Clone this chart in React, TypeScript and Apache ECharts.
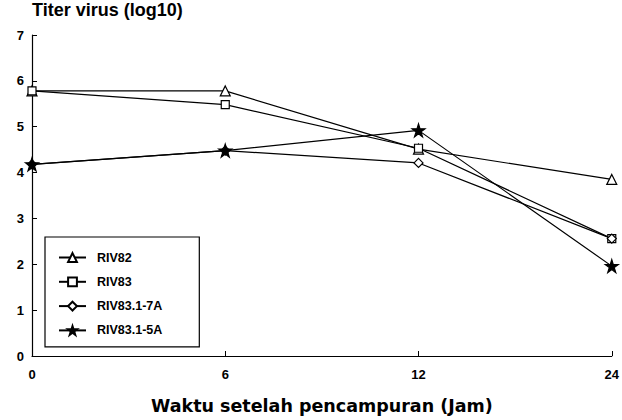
import React, { useEffect, useRef } from "react";
import * as echarts from "echarts";

const categories = ["0", "6", "12", "24"];
const riv82 = [5.78, 5.78, 4.51, 3.85];
const riv83 = [5.78, 5.48, 4.53, 2.56];
const riv83_7A = [4.18, 4.48, 4.21, 2.56];
const riv83_5A = [4.18, 4.48, 4.92, 1.96];
const seriesNames = ["RIV82", "RIV83", "RIV83.1-7A", "RIV83.1-5A"];

const STAR =
  "path://M50,0 L61.8,35.4 L100,35.4 L69.1,57.3 L80.9,93.1 L50,71.2 L19.1,93.1 L30.9,57.3 L0,35.4 L38.2,35.4 Z";

export default function App() {
  const ref = useRef<HTMLDivElement>(null);
  useEffect(() => {
    if (!ref.current) return;
    const chart = echarts.init(ref.current, null, { renderer: "svg" });
    const font = "'Liberation Sans', Arial, sans-serif";
    const wide = "'DejaVu Sans', sans-serif";
    const mk = (name: string, data: number[], symbol: string, size: number, filled: boolean) => ({
      name,
      type: "line",
      data,
      symbol,
      symbolSize: size,
      showAllSymbol: true,
      lineStyle: { color: "#000", width: 1.2 },
      itemStyle: { color: filled ? "#000" : "#fff", borderColor: "#000", borderWidth: 1.2 },
    });
    chart.setOption({
      animation: false,
      backgroundColor: "#fff",
      grid: { left: 32, right: 6, top: 35, bottom: 54 },
      legend: {
        orient: "vertical",
        left: 45,
        top: 237,
        padding: [14, 37, 10, 13],
        itemGap: 11.3,
        itemWidth: 27,
        itemHeight: 11,
        borderColor: "#000",
        borderWidth: 1.2,
        data: seriesNames,
        textStyle: { fontFamily: font, fontWeight: "bold", fontSize: 12.5, color: "#000", padding: [0, 0, 0, 6] },
      },
      xAxis: {
        type: "category",
        data: categories,
        boundaryGap: false,
        name: "Waktu setelah pencampuran (Jam)",
        nameLocation: "middle",
        nameGap: 41,
        nameTextStyle: { fontFamily: wide, fontWeight: "bold", fontSize: 17.5, color: "#000" },
        axisLine: { lineStyle: { color: "#000", width: 1.2 } },
        axisTick: { inside: true, length: 5, alignWithLabel: true, lineStyle: { color: "#000" } },
        axisLabel: { fontFamily: font, fontWeight: "bold", fontSize: 13, color: "#000", margin: 12 },
        splitLine: { show: false },
      },
      yAxis: {
        type: "value",
        min: 0,
        max: 7,
        interval: 1,
        name: "Titer virus (log10)",
        nameLocation: "end",
        nameGap: 16,
        nameTextStyle: { fontFamily: font, fontWeight: "bold", fontSize: 18, color: "#000", align: "left" },
        axisLine: { show: true, lineStyle: { color: "#000", width: 1.2 } },
        axisTick: { show: true, inside: true, length: 5, lineStyle: { color: "#000" } },
        axisLabel: { fontFamily: font, fontWeight: "bold", fontSize: 13, color: "#000", margin: 8 },
        splitLine: { show: false },
      },
      series: [
        mk(seriesNames[0], riv82, "triangle", 10, false),
        mk(seriesNames[1], riv83, "rect", 8, false),
        mk(seriesNames[2], riv83_7A, "diamond", 9, false),
        mk(seriesNames[3], riv83_5A, STAR, 13, true),
      ],
    });
    return () => chart.dispose();
  }, []);
  return <div ref={ref} style={{ width: 622, height: 420, position: "absolute", left: 0, top: 0 }} />;
}
